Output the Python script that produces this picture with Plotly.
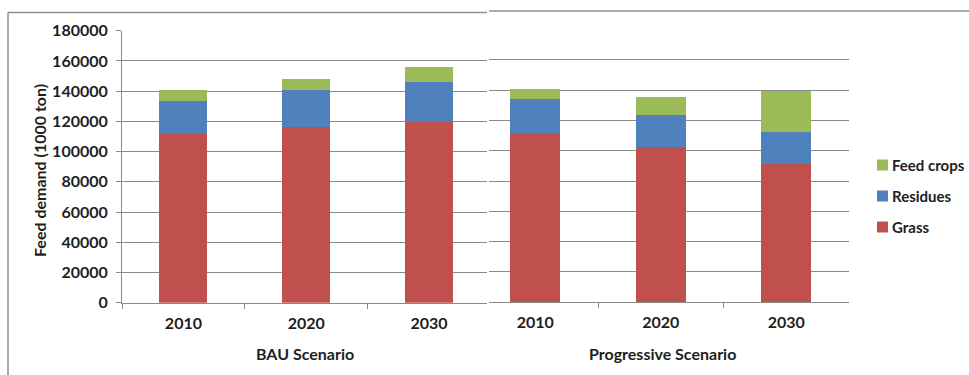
import plotly.graph_objects as go

W, H = 969, 375

years = ["2010", "2020", "2030"]
series = ["Grass", "Residues", "Feed crops"]
colors = ["#C0504D", "#4F81BD", "#9BBB59"]

# Feed demand (1000 ton) by source
bau_grass = [111700, 116600, 119900]
bau_residues = [22100, 24300, 26100]
bau_feed_crops = [7100, 7300, 9900]

prog_grass = [111700, 102300, 91000]
prog_residues = [22100, 21500, 21500]
prog_feed_crops = [7100, 11800, 26600]

y_ticks = list(range(0, 180001, 20000))
y_title = "Feed demand (1000 ton)"
panel_titles = ["BAU Scenario", "Progressive Scenario"]

FONT = "Lato"
TXT = "#1e1e1e"
GRID = "#8a8a8a"


def px(x):
    return x / W


def py(y):
    return 1 - y / H


fig = go.Figure()

panels = [
    ("x", "y", [bau_grass, bau_residues, bau_feed_crops], 0.39),
    ("x2", "y2", [prog_grass, prog_residues, prog_feed_crops], 0.40),
]
for xa, ya, values, bw in panels:
    for name, vals, col in zip(series, values, colors):
        fig.add_trace(go.Bar(
            x=years, y=vals, name=name, marker=dict(color=col, line=dict(width=0)),
            width=bw, xaxis=xa, yaxis=ya, showlegend=False,
        ))

tickfont = dict(family=FONT, size=16, color=TXT, weight="bold")

fig.update_layout(
    width=W, height=H, barmode="stack",
    margin=dict(l=0, r=0, t=0, b=0, autoexpand=False),
    paper_bgcolor="white", plot_bgcolor="white",
    font=dict(family=FONT, color=TXT),
    xaxis=dict(
        domain=[px(122), px(487)], anchor="y", type="category", automargin=False,
        range=[-0.5, 2.472], tickson="boundaries", ticks="outside", ticklen=5,
        tickcolor=GRID, showline=True, linecolor=GRID, linewidth=1,
        showgrid=False, tickfont=tickfont, ticklabelstandoff=6,
    ),
    yaxis=dict(
        domain=[py(302.7), py(30.7)], anchor="x", range=[0, 180000], automargin=False,
        tickvals=y_ticks, ticktext=[str(v) for v in y_ticks],
        ticks="outside", ticklen=5, tickcolor=GRID,
        showline=True, linecolor=GRID, linewidth=1,
        showgrid=True, gridcolor=GRID, gridwidth=1, zeroline=False,
        tickfont=tickfont, ticklabelstandoff=5,
    ),
    xaxis2=dict(
        domain=[px(489), px(849)], anchor="y2", type="category", automargin=False,
        range=[-0.369, 2.5], tickson="boundaries", ticks="outside", ticklen=5,
        tickcolor=GRID, showline=True, linecolor=GRID, linewidth=1,
        showgrid=False, tickfont=tickfont, ticklabelstandoff=6,
    ),
    yaxis2=dict(
        domain=[py(302.2), py(29.5)], anchor="x2", range=[0, 180000], automargin=False,
        tickvals=y_ticks, showticklabels=False, ticks="",
        showline=False, showgrid=True, gridcolor=GRID, gridwidth=1,
        zeroline=False,
    ),
)

# panel frames
frame = dict(color="#8f8f8f", width=1.5)
fig.add_shape(type="line", xref="paper", yref="paper",
              x0=px(8), x1=px(8), y0=py(12.5), y1=0, line=frame)
fig.add_shape(type="line", xref="paper", yref="paper",
              x0=px(8), x1=px(487), y0=py(12.5), y1=py(12.5), line=frame)
fig.add_shape(type="line", xref="paper", yref="paper",
              x0=px(489), x1=1, y0=py(11), y1=py(11), line=frame)

# axis titles
titlefont = dict(family=FONT, size=16, color=TXT, weight="bold")
fig.add_annotation(text=y_title, xref="paper", yref="paper",
                   x=px(40), y=py(171), textangle=-90, showarrow=False,
                   font=titlefont, xanchor="center", yanchor="middle")
for title, cx in zip(panel_titles, [305, 662]):
    fig.add_annotation(text=title, xref="paper", yref="paper",
                       x=px(cx), y=py(353), showarrow=False, font=titlefont,
                       xanchor="center", yanchor="middle")

# legend (top entry is the top of the stack)
legend_rows = [165, 196, 227]
for name, col, yc in zip(series[::-1], colors[::-1], legend_rows):
    fig.add_shape(type="rect", xref="paper", yref="paper",
                  x0=px(877), x1=px(888), y0=py(yc + 5.5), y1=py(yc - 5.5),
                  fillcolor=col, line=dict(width=0))
    fig.add_annotation(text=name, xref="paper", yref="paper",
                       x=px(890), y=py(yc), showarrow=False,
                       font=dict(family=FONT, size=15, color=TXT, weight="bold"),
                       xanchor="left", yanchor="middle")

fig.write_html("out.html")
